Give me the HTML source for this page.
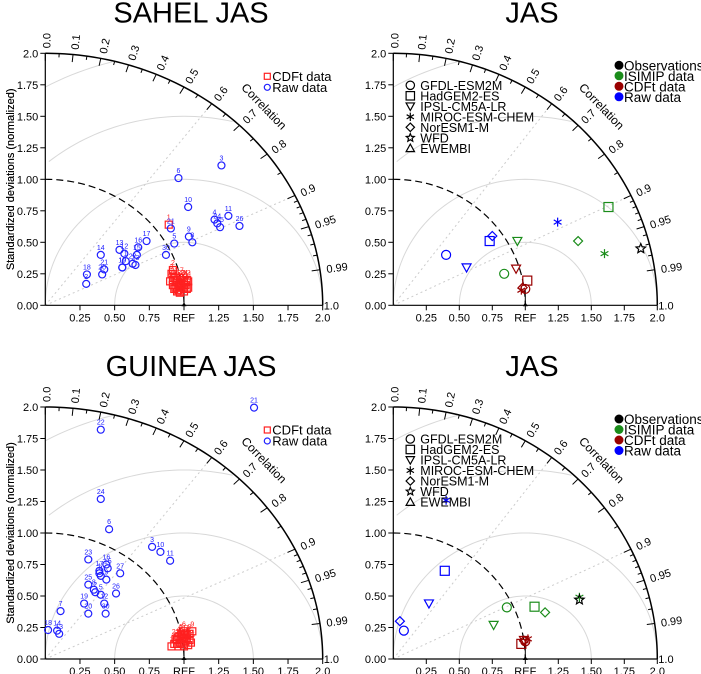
<!DOCTYPE html>
<html><head><meta charset="utf-8"><style>
html,body{margin:0;padding:0;background:#fff;width:701px;height:674px;overflow:hidden}
svg{display:block;font-family:"Liberation Sans",Arial,sans-serif}
</style></head><body>
<svg id="fig" width="701" height="674" viewBox="0 0 701 674" xmlns="http://www.w3.org/2000/svg"></svg>
<script>
// ---- Data ----
const sahelRawX=[0.295,0.58,1.27,1.22,0.93,0.96,0.555,1.06,1.035,1.03,1.32,0.57,0.535,0.40,0.66,0.67,0.73,0.30,0.555,0.41,0.905,0.63,0.65,1.24,1.26,1.40,0.425,0.87];
const sahelRawY=[0.17,0.35,1.11,0.68,0.49,1.01,0.30,0.50,0.545,0.78,0.71,0.41,0.44,0.40,0.40,0.46,0.51,0.245,0.30,0.245,0.61,0.33,0.32,0.65,0.62,0.63,0.285,0.40];
const sahelRawLab=["2","1","3","4","5","6","19","8","9","10","11","12","13","14","15","16","17","18","19","20","21","22","23","24","25","26","21","30"];
const sahelCdfX=[0.89,0.92,0.91,0.90,0.92,0.93,0.95,0.97,1.00,1.02,1.03,1.02,1.00,0.98,0.96,0.94,0.97,0.99,1.01,0.95,0.93,0.96,0.98,1.00,0.92,0.94,1.03,0.97,1.00];
const sahelCdfY=[0.64,0.28,0.25,0.19,0.16,0.13,0.11,0.10,0.11,0.13,0.19,0.20,0.18,0.16,0.15,0.20,0.22,0.14,0.16,0.18,0.22,0.12,0.20,0.20,0.20,0.14,0.14,0.17,0.13];
const guineaRawX=[1.505,0.40,0.40,0.46,0.77,0.83,0.90,0.31,0.39,0.39,0.44,0.45,0.40,0.44,0.54,0.31,0.35,0.36,0.40,0.51,0.425,0.28,0.31,0.435,0.11,0.02,0.085,0.10];
const guineaRawY=[1.995,1.82,1.27,1.03,0.89,0.85,0.78,0.79,0.70,0.68,0.75,0.72,0.66,0.63,0.68,0.59,0.55,0.53,0.51,0.52,0.44,0.44,0.36,0.36,0.38,0.23,0.225,0.20];
const guineaRawLab=["21","22","24","6","3","10","11","23","17","1","16","15","4","9","27","25","8","2","5","26","12","19","20","30","7","18","14","13"];
const guineaCdfX=[0.91,0.93,0.95,0.96,0.98,1.00,1.02,1.04,1.06,0.95,0.97,0.99,1.01,1.03,1.05,0.98,1.00,0.96,1.00,1.02,0.99,0.94,1.04];
const guineaCdfY=[0.10,0.12,0.15,0.18,0.20,0.22,0.19,0.20,0.22,0.12,0.13,0.12,0.14,0.11,0.13,0.16,0.17,0.10,0.10,0.16,0.19,0.16,0.15];
const modelNames=["GFDL-ESM2M","HadGEM2-ES","IPSL-CM5A-LR","MIROC-ESM-CHEM","NorESM1-M","WFD","EWEMBI"];
const modelShapes=["circle","square","tridown","asterisk","diamond","star","triangle"];
const groupNames=["Observations","ISIMIP data","CDFt data","Raw data"];
const groupColors=["#000000","#1a8c1a","#990000","#0000ff"];
// JAS top (Sahel) : per model [raw, isimip, cdft]
const sahelModRawX=[0.40,0.73,0.555,1.245,0.75];
const sahelModRawY=[0.40,0.51,0.30,0.66,0.55];
const sahelModIsiX=[0.84,1.63,0.94,1.60,1.40];
const sahelModIsiY=[0.25,0.78,0.51,0.41,0.51];
const sahelModCdfX=[1.00,1.015,0.93,0.97,0.98];
const sahelModCdfY=[0.13,0.196,0.29,0.12,0.14];
const sahelWfd=[1.875,0.45];
const guineaModRawX=[0.08,0.39,0.27,0.40,0.05];
const guineaModRawY=[0.225,0.70,0.44,1.26,0.30];
const guineaModIsiX=[0.86,1.07,0.76,1.41,1.15];
const guineaModIsiY=[0.41,0.415,0.27,0.49,0.37];
const guineaModCdfX=[1.00,0.97,0.99,1.02,0.99];
const guineaModCdfY=[0.14,0.12,0.15,0.16,0.145];
const guineaWfd=[1.41,0.47];
const yTicks=[0,0.25,0.5,0.75,1,1.25,1.5,1.75,2];
const yTickLabels=["0.00","0.25","0.50","0.75","1.00","1.25","1.50","1.75","2.0"];
const xTicks=[0.25,0.5,0.75,1,1.25,1.5,1.75,2];
const xTickLabels=["0.25","0.50","0.75","REF","1.25","1.50","1.75","2.0"];
const corrMajor=[0,0.1,0.2,0.3,0.4,0.5,0.6,0.7,0.8,0.9,0.95,0.99];
const corrMajorLabels=["0.0","0.1","0.2","0.3","0.4","0.5","0.6","0.7","0.8","0.9","0.95","0.99"];
const corrMinor=[0.05,0.15,0.25,0.35,0.45,0.55,0.65,0.75,0.85,0.91,0.92,0.93,0.94,0.96,0.97,0.98];

const NS="http://www.w3.org/2000/svg";
const svg=document.getElementById('fig');
function mk(tag,attrs,parent){const e=document.createElementNS(NS,tag);for(const k in attrs)e.setAttribute(k,attrs[k]);(parent||svg).appendChild(e);return e;}

function symbol(g,shape,x,y,col,r,fill){
  let e;
  const sw=1.2;
  if(shape==="circle"){e=mk('circle',{cx:x,cy:y,r:r,fill:fill||'none',stroke:col,'stroke-width':sw},g);}
  else if(shape==="square"){e=mk('rect',{x:x-r,y:y-r,width:2*r,height:2*r,fill:'none',stroke:col,'stroke-width':sw},g);}
  else if(shape==="tridown"){e=mk('polygon',{points:`${x-r},${y-r*0.8} ${x+r},${y-r*0.8} ${x},${y+r}`,fill:'none',stroke:col,'stroke-width':sw},g);}
  else if(shape==="triangle"){e=mk('polygon',{points:`${x-r},${y+r*0.8} ${x+r},${y+r*0.8} ${x},${y-r}`,fill:'none',stroke:col,'stroke-width':sw},g);}
  else if(shape==="diamond"){e=mk('polygon',{points:`${x},${y-r} ${x+r},${y} ${x},${y+r} ${x-r},${y}`,fill:'none',stroke:col,'stroke-width':sw},g);}
  else if(shape==="asterisk"){let d='';for(let i=0;i<3;i++){const a=Math.PI/2+i*Math.PI/3;d+=`M${x-r*Math.cos(a)},${y-r*Math.sin(a)}L${x+r*Math.cos(a)},${y+r*Math.sin(a)}`;}e=mk('path',{d:d,stroke:col,'stroke-width':sw,fill:'none'},g);}
  else if(shape==="star"){let p=[];for(let i=0;i<10;i++){const a=-Math.PI/2+i*Math.PI/5;const rr=i%2?r*0.45:r;p.push((x+rr*Math.cos(a)).toFixed(2)+','+(y+rr*Math.sin(a)).toFixed(2));}e=mk('polygon',{points:p.join(' '),fill:'none',stroke:col,'stroke-width':sw},g);}
  return e;
}

function panel(P){
  const g=mk('g',{});
  
  
  const X=v=>P.ox+v*P.sx, Y=v=>P.oy-v*P.sy;
  const pt=(r,c)=>{const a=Math.acos(c);return [X(r*Math.cos(a)),Y(r*Math.sin(a))];};
  // title
  const t=mk('text',{x:P.tx,y:P.oy-283,'font-size':29,'text-anchor':'middle',fill:'#000'},g);
  t.textContent=P.title;
  
  
  // rms arcs centered at REF
  [0.5,1,1.5,2].forEach(rr=>{
    let d='';
    for(let i=0;i<=120;i++){const a=Math.PI*i/120;const x=1+rr*Math.cos(a),y=rr*Math.sin(a);
      if(x<0||x*x+y*y>4.0001)continue;d+=(d?'L':'M')+X(x).toFixed(2)+','+Y(y).toFixed(2);}
    const e=mk('path',{d:d,fill:'none',stroke:'#d8d8d8','stroke-width':1},g);
    
    
  });
  // radial dotted lines
  [0.6,0.9].forEach(c=>{const p=pt(2,c);const e=mk('line',{x1:X(0),y1:Y(0),x2:p[0],y2:p[1],stroke:'#cccccc','stroke-dasharray':'2,3','stroke-width':1},g);
    
    });
  // dashed ref arc r=1
  let d='';for(let i=0;i<=60;i++){const a=Math.PI/2*(1-i/60);d+=(i?'L':'M')+X(Math.cos(a)).toFixed(2)+','+Y(Math.sin(a)).toFixed(2);}
  const ra=mk('path',{d:d,fill:'none',stroke:'#000','stroke-width':1.2,'stroke-dasharray':'7,4'},g);
  
  
  // outer arc
  d='';for(let i=0;i<=90;i++){const a=Math.PI/2*(1-i/90);d+=(i?'L':'M')+X(2*Math.cos(a)).toFixed(2)+','+Y(2*Math.sin(a)).toFixed(2);}
  const oa=mk('path',{d:d,fill:'none',stroke:'#000','stroke-width':1.5},g);
  
  
  // axes
  const ya=mk('line',{x1:X(0),y1:Y(0),x2:X(0),y2:Y(2),stroke:'#000','stroke-width':1.2},g);
  
  
  const xa=mk('line',{x1:X(0),y1:Y(0),x2:X(2),y2:Y(0),stroke:'#000','stroke-width':1.2},g);
  
  
  yTicks.forEach((v,i)=>{mk('line',{x1:X(0)-5,y1:Y(v),x2:X(0),y2:Y(v),stroke:'#000'},g);
    const l=mk('text',{x:X(0)-7,y:Y(v)+4,'font-size':11,'text-anchor':'end'},g);l.textContent=yTickLabels[i];
    
    });
  xTicks.forEach((v,i)=>{mk('line',{x1:X(v),y1:Y(0),x2:X(v),y2:Y(0)+5,stroke:'#000'},g);
    const l=mk('text',{x:X(v),y:Y(0)+16,'font-size':11,'text-anchor':'middle'},g);l.textContent=xTickLabels[i];
    
    });
  const yt=mk('text',{x:0,y:0,'font-size':11,'text-anchor':'middle',transform:`translate(14,${Y(1)}) rotate(-90)`},g);
  yt.textContent='Standardized deviations (normalized)';
  
  
  // correlation ticks
  const tick=(c,len)=>{const a=Math.acos(c);const p=pt(2,c);const q=[X((2-len)*Math.cos(a)),Y((2-len)*Math.sin(a))];mk('line',{x1:p[0],y1:p[1],x2:q[0],y2:q[1],stroke:'#000','stroke-width':1},g);};
  corrMinor.forEach(c=>tick(c,0.03));
  corrMajor.forEach((c,i)=>{tick(c,0.06);
    const a=Math.acos(c);const p=[X(2.04*Math.cos(a)),Y(2.04*Math.sin(a))];
    const l=mk('text',{x:0,y:0,'font-size':11,transform:`translate(${p[0]+1},${p[1]}) rotate(${-a*180/Math.PI}) translate(0,4)`},g);
    l.textContent=corrMajorLabels[i];
    
    });
  const one=mk('text',{x:X(2)+1,y:Y(0)+4,'font-size':11},g);one.textContent='1.0';
  
  
  const cp=[X(2.2*Math.cos(Math.PI/4)),Y(2.2*Math.sin(Math.PI/4))];
  const cl=mk('text',{x:0,y:0,'font-size':12,'text-anchor':'middle',transform:`translate(${cp[0]},${cp[1]}) rotate(46)`},g);
  cl.textContent='Correlation';
  
  
  // ref marker
  const rm=mk('polygon',{points:`${X(1)-2.5},${Y(0)+1} ${X(1)+2.5},${Y(0)+1} ${X(1)},${Y(0)-3}`,fill:'#000'},g);
  
  
  mk('line',{x1:X(1),y1:Y(0),x2:X(1),y2:Y(0.12),stroke:'#000','stroke-width':1},g);
  return {g,X,Y};
}

function stationPanel(P){
  const {g,X,Y}=panel(P);
  P.cdfX.forEach((v,i)=>{const e=symbol(g,'square',X(v),Y(P.cdfY[i]),'#ff2020',3.5);
    
    
    const l=mk('text',{x:X(v),y:Y(P.cdfY[i])-5,'font-size':7,'text-anchor':'middle',fill:'#ff2020'},g);l.textContent=String(i+1);});
  P.rawX.forEach((v,i)=>{const e=symbol(g,'circle',X(v),Y(P.rawY[i]),'#2020ff',3.5);
    
    
    const l=mk('text',{x:X(v),y:Y(P.rawY[i])-5,'font-size':7,'text-anchor':'middle',fill:'#2020ff'},g);l.textContent=P.rawLab[i];
    
    });
  // legend
  const lx=P.ox+222, ly=P.oy-229;
  const s1=symbol(g,'square',lx,ly,'#ff2020',3);
  
  
  const t1=mk('text',{x:lx+5,y:ly+4.5,'font-size':13},g);t1.textContent='CDFt data';
  
  
  const s2=symbol(g,'circle',lx,ly+11,'#2020ff',3);
  
  
  const t2=mk('text',{x:lx+5,y:ly+15.5,'font-size':13},g);t2.textContent='Raw data';
  
  
}

function modelPanel(P){
  const {g,X,Y}=panel(P);
  const sets=[[P.rawX,P.rawY,groupColors[3]],[P.isiX,P.isiY,groupColors[1]],[P.cdfX,P.cdfY,groupColors[2]]];
  sets.forEach(s=>{s[0].forEach((v,i)=>{const e=symbol(g,modelShapes[i],X(v),Y(s[1][i]),s[2],4.5);
    
    });});
  const w=symbol(g,'star',X(P.wfd[0]),Y(P.wfd[1]),'#000',5);
  
  
  // model legend
  modelNames.forEach((n,i)=>{const y=P.oy-220+i*10.5;
    const e=symbol(g,modelShapes[i],P.ox+17,y,'#000',4.2);
    
    
    const t=mk('text',{x:P.ox+27,y:y+4.5,'font-size':12.5},g);t.textContent=n;
    
    });
  groupNames.forEach((n,i)=>{const y=P.oy-240+i*10.5;
    const c=mk('circle',{cx:619,cy:y,r:4.5,fill:groupColors[i]},g);
    
    
    const t=mk('text',{x:624,y:y+5,'font-size':13.5},g);t.textContent=n;
    
    });
}

stationPanel({name:'sahel-panel',title:'SAHEL JAS',tx:191,ox:45.3,oy:305.3,sx:138.7,sy:126,rawX:sahelRawX,rawY:sahelRawY,rawLab:sahelRawLab,cdfX:sahelCdfX,cdfY:sahelCdfY});
stationPanel({name:'guinea-panel',title:'GUINEA JAS',tx:191,ox:45.3,oy:659,sx:138.7,sy:126,rawX:guineaRawX,rawY:guineaRawY,rawLab:guineaRawLab,cdfX:guineaCdfX,cdfY:guineaCdfY});
modelPanel({name:'sahel-models-panel',title:'JAS',tx:532,ox:393.3,oy:305.3,sx:132,sy:126,rawX:sahelModRawX,rawY:sahelModRawY,isiX:sahelModIsiX,isiY:sahelModIsiY,cdfX:sahelModCdfX,cdfY:sahelModCdfY,wfd:sahelWfd});
modelPanel({name:'guinea-models-panel',title:'JAS',tx:532,ox:393.3,oy:659,sx:132,sy:126,rawX:guineaModRawX,rawY:guineaModRawY,isiX:guineaModIsiX,isiY:guineaModIsiY,cdfX:guineaModCdfX,cdfY:guineaModCdfY,wfd:guineaWfd});
</script>
</body></html>
